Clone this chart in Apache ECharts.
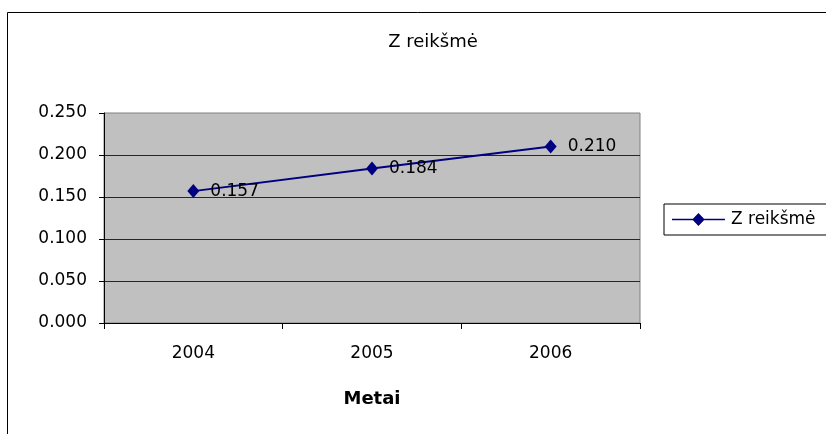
<!DOCTYPE html>
<html>
<head>
<meta charset="utf-8">
<script src="https://cdn.jsdelivr.net/npm/echarts@6/dist/echarts.min.js"></script>
<style>
  html, body { margin: 0; padding: 0; background: #fff; }
  #chart { width: 826px; height: 434px; }
</style>
</head>
<body>
<div id="chart"></div>
<script>
// Z value by year
const years = ['2004', '2005', '2006'];
const zValues = [0.157, 0.184, 0.210];
const seriesName = 'Z reikšmė';
const chartTitle = 'Z reikšmė';
const xTitle = 'Metai';

const FONT = '"DejaVu Sans", "Liberation Sans", Arial, sans-serif';
const NAVY = '#000080';

// legend icon: short line with a diamond in the middle
const legendIcon = 'path://M0,6L21.5,6L21.5,7.5L0,7.5Z M27.5,0L34,6.75L27.5,13.5L21,6.75Z M33.5,6L55,6L55,7.5L33.5,7.5Z';

const chart = echarts.init(document.getElementById('chart'), null, { renderer: 'canvas' });

chart.setOption({
  animation: false,
  backgroundColor: '#ffffff',
  textStyle: { fontFamily: FONT },
  graphic: [{
    type: 'rect',
    z: -10,
    silent: true,
    shape: { x: 7.5, y: 12.5, width: 900, height: 500 },
    style: { fill: '#ffffff', stroke: '#000000', lineWidth: 1 }
  }],
  title: {
    text: chartTitle,
    left: 428,
    top: 28,
    textAlign: 'center',
    textStyle: { fontFamily: FONT, fontSize: 18, fontWeight: 'normal', color: '#000' }
  },
  legend: {
    left: 664,
    top: 204,
    orient: 'vertical',
    padding: [6, 40, 6, 8],
    itemWidth: 55,
    itemHeight: 13,
    itemGap: 0,
    borderColor: '#000',
    borderWidth: 1,
    borderRadius: 0,
    backgroundColor: '#fff',
    textStyle: { fontFamily: FONT, fontSize: 17, lineHeight: 19, color: '#000' },
    data: [{ name: seriesName, icon: legendIcon, itemStyle: { color: NAVY } }]
  },
  grid: {
    left: 104,
    top: 113,
    width: 536,
    height: 210,
    show: true,
    backgroundColor: '#c0c0c0',
    borderColor: '#808080',
    borderWidth: 1
  },
  xAxis: {
    type: 'category',
    data: years,
    boundaryGap: true,
    name: xTitle,
    nameLocation: 'middle',
    nameGap: 67,
    nameTextStyle: { fontFamily: FONT, fontSize: 18, fontWeight: 'bold', color: '#000' },
    axisLine: { lineStyle: { color: '#000', width: 1 } },
    axisTick: { show: true, length: 6, inside: false, lineStyle: { color: '#000' } },
    axisLabel: { fontFamily: FONT, fontSize: 17, color: '#000', margin: 22 },
    splitLine: { show: false }
  },
  yAxis: {
    type: 'value',
    min: 0,
    max: 0.25,
    interval: 0.05,
    axisLine: { show: true, lineStyle: { color: '#000', width: 1 } },
    axisTick: { show: true, length: 5, inside: false, lineStyle: { color: '#000' } },
    axisLabel: {
      fontFamily: FONT, fontSize: 17, color: '#000', margin: 17,
      formatter: v => v.toFixed(3)
    },
    splitLine: {
      show: true,
      showMaxLine: false,
      lineStyle: { color: '#262626', width: 1 }
    }
  },
  series: [{
    name: seriesName,
    type: 'line',
    data: zValues,
    symbol: 'diamond',
    symbolSize: [12, 14],
    itemStyle: { color: NAVY },
    lineStyle: { color: NAVY, width: 2 },
    label: {
      show: true,
      position: 'right',
      distance: 11,
      fontFamily: FONT,
      fontSize: 17,
      color: '#000',
      formatter: p => p.value.toFixed(3)
    }
  }]
});
</script>
</body>
</html>
